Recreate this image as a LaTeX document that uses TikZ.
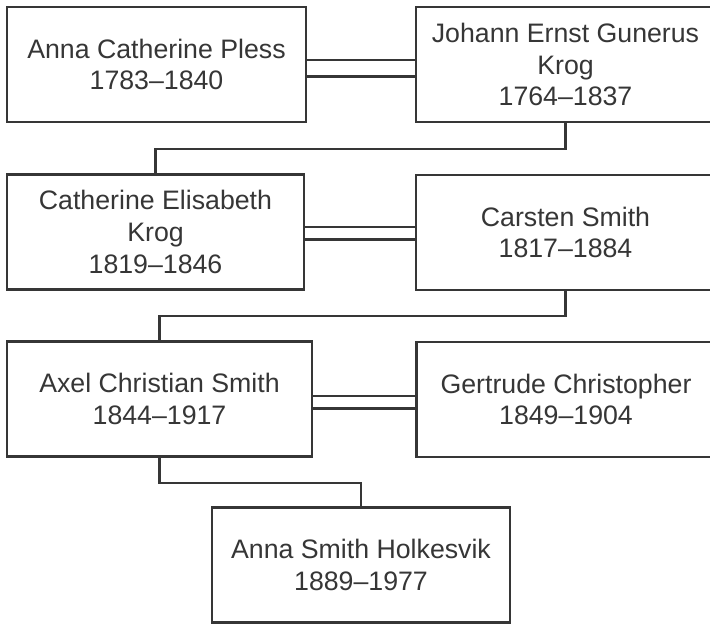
\documentclass[tikz,border=0pt]{standalone}
\usepackage{fontspec}
\setmainfont{Liberation Sans}
\usetikzlibrary{positioning,calc}
\definecolor{ink}{HTML}{363636}
\tikzset{
  person/.style={draw=ink, line width=1.9pt, fill=white, text=ink, align=center,
    minimum width=8.97cm, minimum height=3.45cm, inner sep=0pt,
    font=\fontsize{22.8}{27.2}\selectfont},
  link/.style={draw=ink, line width=1.9pt},
}
\newcommand{\marry}[4]{\draw[link] ([yshift=#3]#1.east) -- ([yshift=#3]#1.east -| #2.west);
  \draw[link] ([yshift=#4]#1.east) -- ([yshift=#4]#1.east -| #2.west);}

\begin{document}
\begin{tikzpicture}[x=0.03cm, y=-0.03cm]
  \useasboundingbox (0,0) rectangle (710,623);
  \clip (0,0) rectangle (710,623);
  % ------------------------------------------------------------ generation 1
  \node[person] (pless) at (156.5,64.5) {Anna Catherine Pless\\1783--1840};
  \node[person] (krog) at (565.5,64.5) {Johann Ernst Gunerus\\Krog\\1764--1837};
  \marry{pless}{krog}{0.135cm}{-0.36cm}
  % ------------------------------------------------------------ generation 2
  \node[person, minimum width=8.91cm] (cekrog) at (155.5,232) {Catherine Elisabeth\\Krog\\1819--1846};
  \node[person] (csmith) at (565.5,232.5) {Carsten Smith\\1817--1884};
  \marry{cekrog}{csmith}{0.15cm}{-0.228cm}
  \draw[link] (krog.south) -- ++(0,26) -| (cekrog.north);
  % ------------------------------------------------------------ generation 3
  \node[person, minimum width=9.15cm] (acsmith) at (159.5,399) {Axel Christian Smith\\1844--1917};
  \node[person] (gchris) at (566,399.5) {Gertrude Christopher\\1849--1904};
  \marry{acsmith}{gchris}{0.084cm}{-0.285cm}
  \draw[link] (csmith.south) -- ++(0,25) -| (acsmith.north);
  % ------------------------------------------------------------ generation 4
  \node[person, minimum width=8.94cm] (holk) at (361,565) {Anna Smith Holkesvik\\1889--1977};
  \draw[link] (acsmith.south) -- ++(0,25) -| (holk.north);
\end{tikzpicture}
\end{document}
